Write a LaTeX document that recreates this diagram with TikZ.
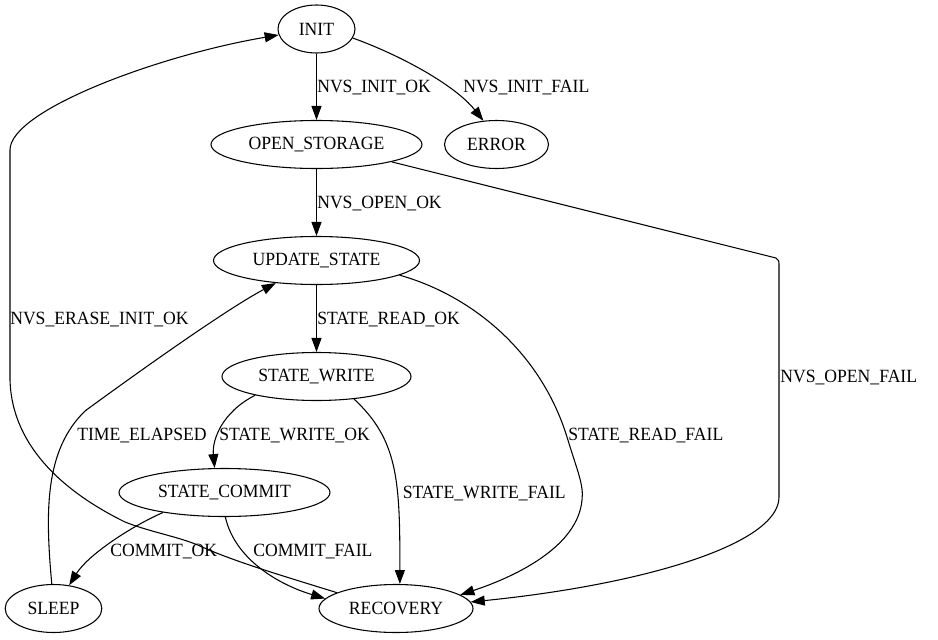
\documentclass[tikz,border=0pt]{standalone}
\usepackage{fontspec}
\setmainfont{Liberation Serif}[FakeStretch=0.945]
\usetikzlibrary{arrows.meta,shapes.geometric}
\begin{document}
\begin{tikzpicture}[x=0.75pt,y=-0.75pt,
  state/.style={draw,ellipse,inner sep=0pt,minimum height=36pt,line width=0.8pt,font=\fontsize{14}{16}\selectfont},
  arr/.style={draw,line width=0.8pt,-{Triangle[length=10.5pt,width=7.5pt]}},
  lbl/.style={anchor=base west,inner sep=0pt,font=\fontsize{14}{16}\selectfont}]
\path[fill=white] (0,0) rectangle (938,639);
\useasboundingbox (0,0) rectangle (938,639);

\node[state,minimum width=57.75pt] (init) at (316.5,29) {INIT};
\node[state,minimum width=158.25pt] (open) at (316.5,144.5) {OPEN\_STORAGE};
\node[state,minimum width=78pt] (error) at (496.5,144.5) {ERROR};
\node[state,minimum width=154.5pt] (update) at (316.5,260.5) {UPDATE\_STATE};
\node[state,minimum width=141.75pt] (write) at (316.5,376.5) {STATE\_WRITE};
\node[state,minimum width=158.25pt] (commit) at (224.5,492.5) {STATE\_COMMIT};
\node[state,minimum width=72.5pt] (sleep) at (53.5,608.5) {SLEEP};
\node[state,minimum width=115.5pt] (recovery) at (396,608.5) {RECOVERY};

\draw[arr] (init) -- (open);
\draw[arr] (init.-14) .. controls (400,55) and (455,85) .. (error.119);
\draw[arr] (open) -- (update);
\draw[arr] (open.-13) -- (776,258) .. controls (779,259) and (779,262) .. (779,266) -- (779,497) .. controls (779,545) and (640,585) .. (recovery.5);
\draw[arr] (update) -- (write);
\draw[arr] (update.-10) .. controls (470,295) and (540,350) .. (567,437) .. controls (577,470) and (584,485) .. (582,500) .. controls (578,545) and (520,575) .. (recovery.12);
\draw[arr] (write.197) .. controls (222,412) and (212,440) .. (commit.112);
\draw[arr] (write.-31) .. controls (398,440) and (400,480) .. (recovery.81);
\draw[arr] (commit.198) .. controls (130,527) and (88,555) .. (sleep.56);
\draw[arr] (commit.-88) .. controls (235,560) and (280,585) .. (recovery.172);
\draw[arr] (sleep.94) .. controls (45,510) and (45,450) .. (85,411) .. controls (130,378) and (225,310) .. (update.209);
\draw[arr] (recovery.165) .. controls (290,578) and (235,562) .. (200,546) .. controls (180,537) and (150,532) .. (125,522) .. controls (70,495) and (12,450) .. (10,380) -- (10,150) .. controls (10,110) and (160,55) .. (init.189);

\node[lbl] (l1) at (317,92.5) {NVS\_INIT\_OK};
\node[lbl] (l2) at (463,92.5) {NVS\_INIT\_FAIL};
\node[lbl] (l3) at (317,208.5) {NVS\_OPEN\_OK};
\node[lbl] (l4) at (780,382.5) {NVS\_OPEN\_FAIL};
\node[lbl] (l5) at (317,324.5) {STATE\_READ\_OK};
\node[lbl] (l6) at (568,440) {STATE\_READ\_FAIL};
\node[lbl] (l7) at (10,324.5) {NVS\_ERASE\_INIT\_OK};
\node[lbl] (l8) at (77,440.5) {TIME\_ELAPSED};
\node[lbl] (l9) at (219,440.5) {STATE\_WRITE\_OK};
\node[lbl] (l10) at (402.5,498.5) {STATE\_WRITE\_FAIL};
\node[lbl] (l11) at (110,556.5) {COMMIT\_OK};
\node[lbl] (l12) at (253,556.5) {COMMIT\_FAIL};
\end{tikzpicture}
\end{document}
